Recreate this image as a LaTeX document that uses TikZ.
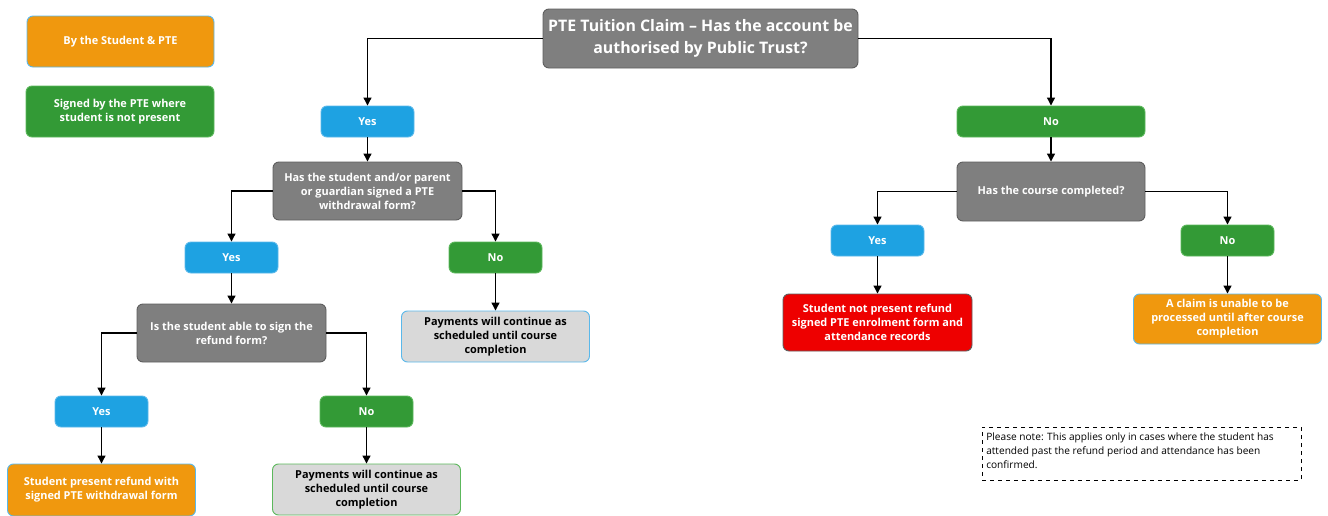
\documentclass[tikz,border=0pt]{standalone}
\usepackage{fontspec}
\setmainfont{Open Sans}
\usetikzlibrary{arrows.meta}
\definecolor{cOrange}{HTML}{F0980E}
\definecolor{cGreen}{HTML}{339A36}
\definecolor{cGreenB}{HTML}{5CB85C}
\definecolor{cBlue}{HTML}{1EA2E2}
\definecolor{cBlueB}{HTML}{5AB8EA}
\definecolor{cGray}{HTML}{7F7F7F}
\definecolor{cGrayB}{HTML}{5E5E5E}
\definecolor{cLight}{HTML}{D9D9D9}
\definecolor{cRed}{HTML}{EE0000}
\def\u{0.75pt}
\tikzset{
  base/.style={rounded corners=4.5pt, line width=0.7pt, align=center, inner sep=1pt,
    font=\bfseries\fontsize{8.2}{10.5}\selectfont},
  orangebox/.style={base, fill=cOrange, draw=cBlueB, text=white},
  greenbox/.style={base, fill=cGreen, draw=cGreenB, text=white},
  bluebox/.style={base, fill=cBlue, draw=cBlueB, text=white},
  graybox/.style={base, fill=cGray, draw=cGrayB, text=white},
  redbox/.style={base, fill=cRed, draw=cGrayB, text=white},
  lightblue/.style={base, fill=cLight, draw=cBlueB, text=black},
  lightgreen/.style={base, fill=cLight, draw=cGreenB, text=black},
  sz/.style 2 args={minimum width={#1*\u}, minimum height={#2*\u}},
  arr/.style={line width=0.9pt, -{Triangle[width=6pt,length=6pt]}},
}
\begin{document}
\begin{tikzpicture}[x=0.75pt, y=-0.75pt]
\useasboundingbox (0,0) rectangle (1328,515);

% legend
\node[orangebox, sz={187}{51}] (leg1) at (120.5,41.5) {By the Student \& PTE};
\node[greenbox, sz={188}{51}] (leg2) at (120,111.5) {Signed by the PTE where\\student is not present};

% title
\node[graybox, sz={315}{59}, font=\bfseries\fontsize{11.9}{16.5}\selectfont] (title) at (700.5,38.5)
  {PTE Tuition Claim – Has the account be\\authorised by Public Trust?};

% left branch
\node[bluebox, sz={93}{31}] (yes1) at (367.5,121.5) {Yes};
\node[graybox, sz={189}{58}] (q2) at (367.5,191) {Has the student and/or parent\\or guardian signed a PTE\\withdrawal form?};
\node[bluebox, sz={93}{31}] (yes2) at (231.5,257.5) {Yes};
\node[greenbox, sz={93}{31}] (no2) at (495.5,257.5) {No};
\node[lightblue, sz={188}{51}] (f2) at (495.5,336.5) {Payments will continue as\\scheduled until course\\completion};
\node[graybox, sz={189}{58}] (q3) at (231.5,333) {Is the student able to sign the\\refund form?};
\node[bluebox, sz={93}{31}] (yes3) at (101.5,411.5) {Yes};
\node[greenbox, sz={93}{31}] (no3) at (366.5,411.5) {No};
\node[orangebox, sz={188}{52}] (f3a) at (101.5,490) {Student present refund with\\signed PTE withdrawal form};
\node[lightgreen, sz={188}{51}] (f3b) at (366.5,489.5) {Payments will continue as\\scheduled until course\\completion};

% right branch
\node[greenbox, sz={188}{31}] (no1) at (1051,121.5) {No};
\node[graybox, sz={188}{59}] (q4) at (1051,191.5) {Has the course completed?};
\node[bluebox, sz={93}{31}] (yes4) at (877.5,240.5) {Yes};
\node[greenbox, sz={93}{31}] (no4) at (1227.5,240.5) {No};
\node[redbox, sz={189}{57}] (red) at (877.5,322.5) {Student not present refund\\signed PTE enrolment form and\\attendance records};
\node[orangebox, sz={188}{50}] (o2) at (1227.5,319) {A claim is unable to be\\processed until after course\\completion};

% note
\node[draw, dashed, line width=0.6pt, minimum width={319*\u}, minimum height={53*\u}] (note) at (1141.5,453.5) {};
\node[anchor=north west, align=left, inner sep=0pt, font=\fontsize{7.6}{10.5}\selectfont] (notetext) at (986,432.5)
  {Please note: This applies only in cases where the student has\\attended past the refund period and attendance has been\\confirmed.};

% connectors
\draw[arr] (title.west) -| (yes1.north);
\draw[arr] (title.east) -| (no1.north);
\draw[arr] (yes1) -- (q2);
\draw[arr] (q2.west) -| (yes2.north);
\draw[arr] (q2.east) -| (no2.north);
\draw[arr] (no2) -- (f2);
\draw[arr] (yes2) -- (q3);
\draw[arr] (q3.west) -| (yes3.north);
\draw[arr] (q3.east) -| (no3.north);
\draw[arr] (yes3) -- (f3a);
\draw[arr] (no3) -- (f3b);
\draw[arr] (no1) -- (q4);
\draw[arr] (q4.west) -| (yes4.north);
\draw[arr] (q4.east) -| (no4.north);
\draw[arr] (yes4) -- (red);
\draw[arr] (no4) -- (o2);
\end{tikzpicture}
\end{document}
